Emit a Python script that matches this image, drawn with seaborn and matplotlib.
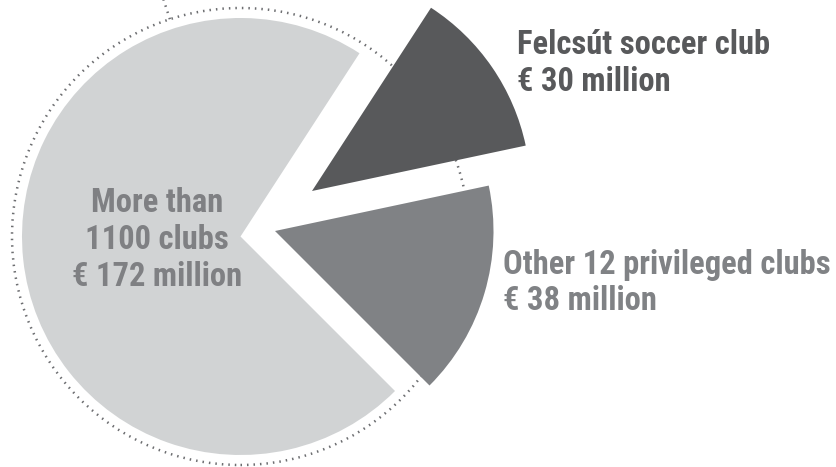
import matplotlib
matplotlib.use("Agg")
import matplotlib.pyplot as plt
from matplotlib import font_manager
from matplotlib.patches import Circle
import numpy as np
import seaborn as sns

# public money to clubs, million euro
groups = ["Other 12 privileged clubs", "Felcsút soccer club", "More than 1100 clubs"]
funding = [38, 30, 172]
amounts = ["€ 38 million", "€ 30 million", "€ 172 million"]

colors = ["#808285", "#58595b", "#d1d3d4"]
text_colors = ["#808285", "#58595b", "#7f8083"]

sns.set_style("white")

# condensed bold face, whatever is around
installed = {f.name for f in font_manager.fontManager.ttflist}
stretch = "normal"
family = None
for fam in ["Roboto Condensed", "Liberation Sans Narrow", "Open Sans Condensed", "Noto Sans Condensed"]:
    if fam in installed:
        family = fam
        break
if family is None:
    for f in font_manager.fontManager.ttflist:
        if f.name in ("Roboto", "Noto Sans", "Open Sans", "DejaVu Sans") and str(f.stretch) in ("condensed", "semi-condensed"):
            family, stretch = f.name, "condensed"
            break
plt.rcParams["font.family"] = ([family] if family else []) + ["DejaVu Sans"]
plt.rcParams["font.stretch"] = stretch

fig = plt.figure(figsize=(8.37, 4.67), dpi=100)
ax = fig.add_axes([0, 0, 1, 1])

cx, cy, r = 240.5, 230.5, 218.5
wedges, _ = ax.pie(funding, colors=colors, startangle=-45, counterclock=True,
                   radius=r, center=(cx, cy), wedgeprops=dict(linewidth=0))

# slices pulled out by hand in the original
nudge = [(34.5, 5.5), (71.5, 45.5), (0, 0)]
for w, (dx, dy) in zip(wedges, nudge):
    w.set_center((cx + dx, cy + dy))
    w.set_zorder(2)

dots = dict(color="#6d6e71", lw=1.8, ls=(0, (0.6, 2.0)), zorder=1)
ax.add_patch(Circle((cx, cy), 228.5, fill=False, **dots))
a = np.deg2rad(108)
ax.plot([cx + 228.5 * np.cos(a), cx + 262 * np.cos(a)],
        [cy + 228.5 * np.sin(a), cy + 262 * np.sin(a)], **dots)

kw = dict(fontsize=23.5, fontweight="bold", linespacing=1.18, zorder=3)
ax.text(157, 227, "More than\n1100 clubs\n" + amounts[2], ha="center", va="center",
        color=text_colors[2], **kw)
ax.text(517, 438, groups[1] + "\n" + amounts[1], ha="left", va="top",
        color=text_colors[1], **kw)
ax.text(503, 218, groups[0] + "\n" + amounts[0], ha="left", va="top",
        color=text_colors[0], **kw)

ax.set_xlim(0, 837)
ax.set_ylim(0, 467)
ax.set_aspect("equal")
ax.axis("off")

fig.savefig("out.png", dpi=100)
